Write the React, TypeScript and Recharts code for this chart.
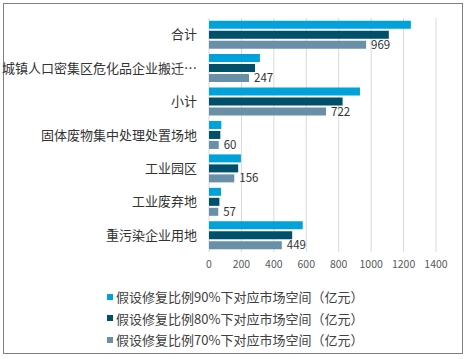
import React from 'react';
import { BarChart, Bar, XAxis, YAxis, CartesianGrid, LabelList } from 'recharts';

const categories = ['合计', '城镇人口密集区危化品企业搬迁…', '小计', '固体废物集中处理处置场地', '工业园区', '工业废弃地', '重污染企业用地'];
const ratio90 = [1245, 314, 931, 76, 197, 74, 578];
const ratio80 = [1109, 284, 824, 70, 180, 64, 513];
const ratio70 = [969, 247, 722, 60, 156, 57, 449];
const xTicks = [0, 200, 400, 600, 800, 1000, 1200, 1400];

const seriesNames = [
  '假设修复比例90%下对应市场空间（亿元）',
  '假设修复比例80%下对应市场空间（亿元）',
  '假设修复比例70%下对应市场空间（亿元）',
];
const colors = ['#00a2da', '#004f6b', '#6a90a8'];

const data = categories.map((name, i) => ({
  name,
  v90: ratio90[i],
  v80: ratio80[i],
  v70: ratio70[i],
}));

const FONT = '"Noto Sans CJK SC", "Noto Sans", sans-serif';

export default function App() {
  return (
    <div style={{ position: 'absolute', left: 0, top: 0, width: 466, height: 359, background: '#fff', fontFamily: FONT }}>
      <div
        style={{
          position: 'absolute',
          left: 3,
          top: 3,
          width: 458,
          height: 349,
          border: '1px solid #808080',
        }}
      />
      <div style={{ position: 'absolute', left: 0, top: 0 }}>
        <BarChart
          width={466}
          height={359}
          data={data}
          layout="vertical"
          margin={{ top: 18, right: 30, left: 0, bottom: 77 }}
          barCategoryGap="8%"
          barGap={2}
        >
          <CartesianGrid horizontal={false} stroke="#d9d9d9" />
          <XAxis
            type="number"
            domain={[0, 1400]}
            ticks={xTicks}
            axisLine={false}
            tickLine={false}
            tickSize={0}
            tickMargin={9}
            height={30}
            interval={0}
            tick={{ fontSize: 10.5, fill: '#595959', fontFamily: FONT }}
          />
          <YAxis
            type="category"
            dataKey="name"
            width={209}
            axisLine={false}
            tickLine={false}
            tickSize={0}
            tickMargin={12}
            interval={0}
            tick={{ fontSize: 13, fill: '#333', fontFamily: FONT }}
          />
          <Bar dataKey="v90" name={seriesNames[0]} fill={colors[0]} isAnimationActive={false} />
          <Bar dataKey="v80" name={seriesNames[1]} fill={colors[1]} isAnimationActive={false} />
          <Bar dataKey="v70" name={seriesNames[2]} fill={colors[2]} isAnimationActive={false}>
            <LabelList dataKey="v70" position="right" offset={5} style={{ fontSize: 11.5, fill: '#333', fontFamily: FONT }} />
          </Bar>
        </BarChart>
      </div>
      <div style={{ position: 'absolute', left: 0, top: 286, width: 466 }}>
        {seriesNames.map((n, i) => (
          <div
            key={n}
            style={{
              height: 21.5,
              lineHeight: '21.5px',
              fontSize: 13,
              color: '#404040',
              display: 'flex',
              alignItems: 'center',
              paddingLeft: 107,
            }}
          >
            <span style={{ display: 'inline-block', width: 6, height: 6, background: colors[i], marginRight: 3 }} />
            <span>{n}</span>
          </div>
        ))}
      </div>
    </div>
  );
}
